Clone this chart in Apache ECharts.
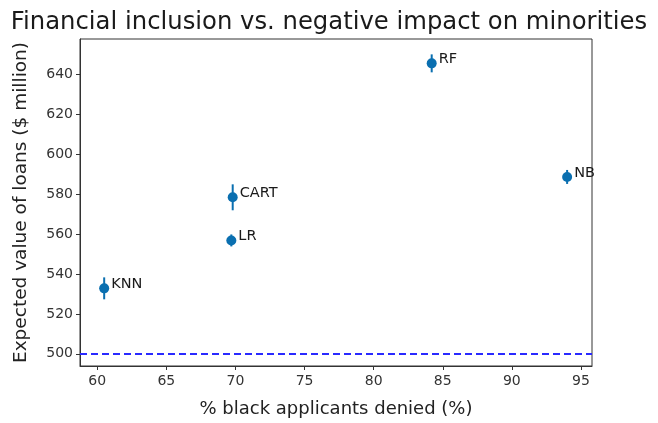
<!DOCTYPE html>
<html>
<head>
<meta charset="utf-8">
<script src="https://cdn.jsdelivr.net/npm/echarts@6/dist/echarts.min.js"></script>
<style>
  html, body { margin: 0; padding: 0; background: #fff; }
  #main { width: 658px; height: 423px; }
</style>
</head>
<body>
<div id="main"></div>
<script>
// models and their scores
var models = ['KNN', 'LR', 'CART', 'RF', 'NB'];
var deniedPct = [60.5, 69.7, 69.8, 84.2, 94.0];
var loanValue = [532.8, 556.8, 578.4, 645.5, 588.6];
var loanErr = [5.5, 3.0, 6.5, 4.5, 3.5];
var baseline = 500;

var xTicks = [60, 65, 70, 75, 80, 85, 90, 95];
var yTicks = [500, 520, 540, 560, 580, 600, 620, 640];

var font = 'DejaVu Sans';
var dotColor = '#0a6fb0';

var points = models.map(function (m, i) {
    return { name: m, value: [deniedPct[i], loanValue[i]] };
});
var bars = models.map(function (m, i) {
    return [deniedPct[i], loanValue[i] - loanErr[i], loanValue[i] + loanErr[i]];
});

var chart = echarts.init(document.getElementById('main'));
chart.setOption({
    animation: false,
    backgroundColor: '#fff',
    title: {
        text: 'Financial inclusion vs. negative impact on minorities',
        left: 'center',
        top: 6,
        textStyle: { fontFamily: font, fontSize: 24.3, fontWeight: 'normal', color: '#1a1a1a' }
    },
    grid: {
        left: 80, right: 66, top: 39, bottom: 55,
        show: true, borderColor: '#333', borderWidth: 1
    },
    xAxis: {
        type: 'value',
        min: 58.75, max: 95.8,
        name: '% black applicants denied (%)',
        nameLocation: 'middle',
        nameGap: 34,
        nameTextStyle: { fontFamily: font, fontSize: 18, color: '#222' },
        splitLine: { show: false },
        axisLine: { show: true, lineStyle: { color: '#333' } },
        axisTick: { show: true, customValues: xTicks, length: 4, lineStyle: { color: '#333' } },
        axisLabel: { customValues: xTicks, fontFamily: font, fontSize: 14, color: '#333', margin: 8 }
    },
    yAxis: {
        type: 'value',
        min: 493.9, max: 657.7,
        name: 'Expected value of loans ($ million)',
        nameLocation: 'middle',
        nameGap: 49,
        nameTextStyle: { fontFamily: font, fontSize: 18.5, color: '#222' },
        splitLine: { show: false },
        axisLine: { show: true, lineStyle: { color: '#333' } },
        axisTick: { show: true, customValues: yTicks, length: 4, lineStyle: { color: '#333' } },
        axisLabel: { customValues: yTicks, fontFamily: font, fontSize: 14, color: '#333', margin: 7 }
    },
    series: [{
        type: 'custom',
        data: bars,
        renderItem: function (params, api) {
            var lo = api.coord([api.value(0), api.value(1)]);
            var hi = api.coord([api.value(0), api.value(2)]);
            return {
                type: 'line',
                shape: { x1: lo[0], y1: lo[1], x2: hi[0], y2: hi[1] },
                style: { stroke: dotColor, lineWidth: 2 }
            };
        },
        z: 2
    }, {
        type: 'scatter',
        data: points,
        symbolSize: 10,
        itemStyle: { color: dotColor, opacity: 1 },
        label: {
            show: true,
            position: 'right',
            distance: 2,
            offset: [0, -4],
            formatter: '{b}',
            fontFamily: font, fontSize: 14.5, color: '#1a1a1a'
        },
        markLine: {
            silent: true,
            symbol: ['none', 'none'],
            label: { show: false },
            lineStyle: { color: '#2a2aff', type: [7, 4], width: 2 },
            data: [{ yAxis: baseline }]
        },
        z: 3
    }]
});
</script>
</body>
</html>
